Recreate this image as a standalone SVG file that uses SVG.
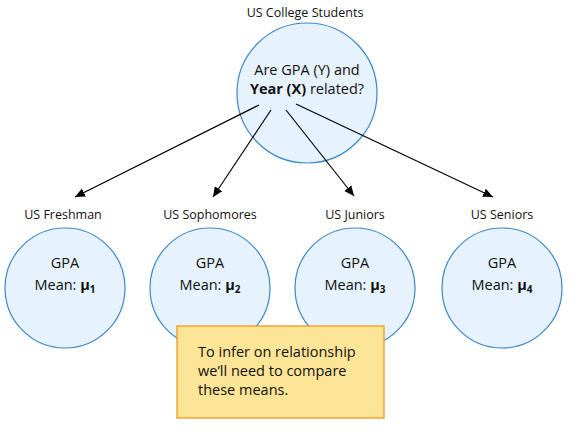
<svg xmlns="http://www.w3.org/2000/svg" width="583" height="432" viewBox="0 0 583 432">
<defs>
<style>
.c{fill:#e6f2fd;stroke:#3b88c8;stroke-width:1.2}
.t{font-family:"Open Sans","Liberation Sans",sans-serif;fill:#111;text-anchor:middle}
.lbl{font-size:12.5px}
.in{font-size:14.5px}
.e{stroke:#000;stroke-width:1.2;fill:none;marker-end:url(#ah)}
</style>
<marker id="ah" viewBox="0 0 10 10" refX="10" refY="5" markerWidth="10" markerHeight="10" markerUnits="userSpaceOnUse" orient="auto">
<path d="M0,0.5 L10,5 L0,9.5 Z" fill="#000"/>
</marker>
</defs>
<rect width="583" height="432" fill="#fff"/>
<g id="top">
<text class="t lbl" x="305" y="17">US College Students</text>
<circle class="c" cx="307" cy="93" r="70"/>
<text class="t in" x="307" y="75">Are GPA (Y) and</text>
<text class="t in" x="307" y="94"><tspan font-weight="bold">Year (X)</tspan> related?</text>
</g>
<g id="connectors">
<line class="e" x1="259" y1="105" x2="75" y2="197"/>
<line class="e" x1="271" y1="110" x2="213" y2="197"/>
<line class="e" x1="286" y1="110" x2="354" y2="196"/>
<line class="e" x1="296" y1="104" x2="493" y2="197"/>
</g>
<g id="freshman">
<text class="t lbl" x="63" y="219">US Freshman</text>
<circle class="c" cx="65" cy="288" r="60"/>
<text class="t in" x="65" y="268">GPA</text>
<text class="t in" x="65" y="290">Mean: <tspan font-weight="bold">μ</tspan><tspan font-weight="bold" font-size="10" dy="3">1</tspan></text>
</g>
<g id="sophomores">
<text class="t lbl" x="210" y="219">US Sophomores</text>
<circle class="c" cx="210" cy="288" r="60"/>
<text class="t in" x="210" y="268">GPA</text>
<text class="t in" x="210" y="290">Mean: <tspan font-weight="bold">μ</tspan><tspan font-weight="bold" font-size="10" dy="3">2</tspan></text>
</g>
<g id="juniors">
<text class="t lbl" x="355" y="219">US Juniors</text>
<circle class="c" cx="355" cy="288" r="60"/>
<text class="t in" x="355" y="268">GPA</text>
<text class="t in" x="355" y="290">Mean: <tspan font-weight="bold">μ</tspan><tspan font-weight="bold" font-size="10" dy="3">3</tspan></text>
</g>
<g id="seniors">
<text class="t lbl" x="502" y="219">US Seniors</text>
<circle class="c" cx="502" cy="288" r="60"/>
<text class="t in" x="502" y="268">GPA</text>
<text class="t in" x="502" y="290">Mean: <tspan font-weight="bold">μ</tspan><tspan font-weight="bold" font-size="10" dy="3">4</tspan></text>
</g>
<g id="note">
<rect x="177" y="326" width="207" height="92" fill="#fde597" stroke="#f2981e" stroke-width="1.3"/>
<text class="in" font-family="Open Sans, Liberation Sans, sans-serif" fill="#111" x="198" y="357">To infer on relationship</text>
<text class="in" font-family="Open Sans, Liberation Sans, sans-serif" fill="#111" x="198" y="376">we’ll need to compare</text>
<text class="in" font-family="Open Sans, Liberation Sans, sans-serif" fill="#111" x="198" y="395">these means.</text>
</g>
</svg>
